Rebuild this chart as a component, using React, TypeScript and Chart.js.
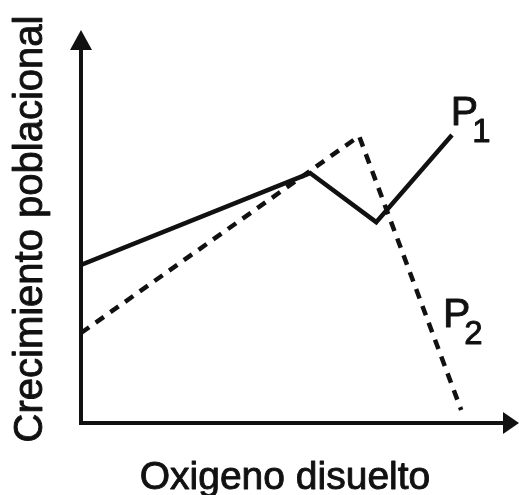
import React, { useEffect, useRef } from "react";
import { Chart, registerables } from "chart.js";

Chart.register(...registerables);

// Series values (x: oxygen, y: growth) on 0–100 arbitrary scales
const p1X = [0, 52.3, 67.4, 84.7];
const p1Y = [40.2, 63.6, 51.1, 73.3];
const p2X = [0, 63.5, 86.8];
const p2Y = [22.9, 73.0, 3.3];

const seriesNames = ["P", "P"];
const seriesSubs = ["1", "2"];
const labelX = [84.9, 83.1];
const labelY = [75.8, 24.4];

const xTitle = "Oxigeno disuelto";
const yTitle = "Crecimiento poblacional";

const FONT = "'Liberation Sans', Arial, Helvetica, sans-serif";
const INK = "#111111";

function boldText(ctx: any, text: string, x: number, y: number) {
  ctx.fillText(text, x, y);
  ctx.strokeText(text, x, y);
}

const axesPlugin = {
  id: "axesArrows",
  afterDatasetsDraw(chart: any) {
    const { ctx, chartArea } = chart;
    const { left, right, top, bottom } = chartArea;
    ctx.save();
    ctx.strokeStyle = INK;
    ctx.fillStyle = INK;
    ctx.lineWidth = 4;
    ctx.lineCap = "butt";
    // y axis
    ctx.beginPath();
    ctx.moveTo(left, bottom + 2);
    ctx.lineTo(left, top + 15);
    ctx.stroke();
    ctx.beginPath();
    ctx.moveTo(left, top);
    ctx.lineTo(left - 11, top + 20);
    ctx.lineTo(left + 11, top + 20);
    ctx.closePath();
    ctx.fill();
    // x axis
    ctx.beginPath();
    ctx.moveTo(left - 2, bottom);
    ctx.lineTo(right - 12, bottom);
    ctx.stroke();
    ctx.beginPath();
    ctx.moveTo(right, bottom);
    ctx.lineTo(right - 16, bottom - 11);
    ctx.lineTo(right - 16, bottom + 11);
    ctx.closePath();
    ctx.fill();

    // titles
    ctx.lineWidth = 0.9;
    ctx.lineJoin = "round";
    ctx.font = `39px ${FONT}`;
    ctx.textAlign = "center";
    ctx.textBaseline = "alphabetic";
    boldText(ctx, xTitle, 285, 489);
    ctx.save();
    ctx.translate(42, 229);
    ctx.rotate(-Math.PI / 2);
    ctx.font = `40px ${FONT}`;
    boldText(ctx, yTitle, 0, 0);
    ctx.restore();

    // series labels
    const xs = chart.scales.x;
    const ys = chart.scales.y;
    ctx.textAlign = "left";
    for (let i = 0; i < seriesNames.length; i++) {
      const px = xs.getPixelForValue(labelX[i]);
      const py = ys.getPixelForValue(labelY[i]);
      ctx.font = `41px ${FONT}`;
      boldText(ctx, seriesNames[i], px - 2, py);
      const w = ctx.measureText(seriesNames[i]).width;
      ctx.font = `33px ${FONT}`;
      boldText(ctx, seriesSubs[i], px - 2 + w - 6, py + 17);
    }
    ctx.restore();
  },
};

export default function App() {
  const ref = useRef<HTMLCanvasElement | null>(null);
  useEffect(() => {
    document.body.style.margin = "0";
    const canvas = ref.current;
    if (!canvas) return;
    const chart = new Chart(canvas, {
      type: "line",
      data: {
        datasets: [
          {
            label: "P1",
            data: p1X.map((x, i) => ({ x, y: p1Y[i] })),
            borderColor: INK,
            borderWidth: 4.5,
            pointRadius: 0,
            tension: 0,
            fill: false,
            borderJoinStyle: "miter",
          },
          {
            label: "P2",
            data: p2X.map((x, i) => ({ x, y: p2Y[i] })),
            borderColor: INK,
            borderWidth: 4.5,
            borderDash: [10, 8],
            pointRadius: 0,
            tension: 0,
            fill: false,
            borderJoinStyle: "miter",
          },
        ],
      },
      options: {
        animation: false,
        responsive: false,
        maintainAspectRatio: false,
        devicePixelRatio: 1,
        layout: { padding: { left: 81, right: 0, top: 30, bottom: 72 } },
        plugins: { legend: { display: false }, tooltip: { enabled: false }, title: { display: false } },
        scales: {
          x: { type: "linear", min: 0, max: 100, display: false },
          y: { type: "linear", min: 0, max: 100, display: false },
        },
      },
      plugins: [axesPlugin],
    } as any);
    return () => chart.destroy();
  }, []);
  return (
    <div style={{ position: "absolute", left: 0, top: 0, width: 519, height: 495, background: "#fff" }}>
      <canvas ref={ref} width={519} height={495} style={{ width: 519, height: 495, display: "block" }} />
    </div>
  );
}
